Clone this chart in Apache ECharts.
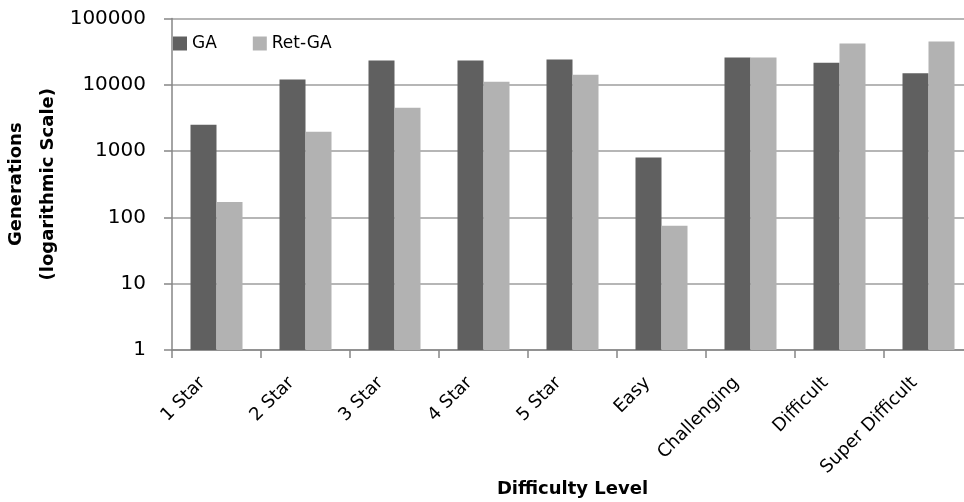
<!DOCTYPE html>
<html>
<head>
<meta charset="utf-8">
<script src="https://cdn.jsdelivr.net/npm/echarts@6/dist/echarts.min.js"></script>
<style>html,body{margin:0;padding:0;background:#fff;overflow:hidden;}#chart{width:964px;height:502px;}</style>
</head>
<body>
<div id="chart"></div>
<script>
var categories = ['1 Star', '2 Star', '3 Star', '4 Star', '5 Star', 'Easy', 'Challenging', 'Difficult', 'Super Difficult'];
var gaValues = [2500, 12000, 23200, 23200, 24000, 800, 25800, 21500, 15000];
var retGaValues = [170, 1950, 4500, 11100, 14200, 75, 25800, 42000, 45000];
var seriesNames = ['GA', 'Ret-GA'];
var yAxisName = 'Generations\n(logarithmic Scale)';
var xAxisName = 'Difficulty Level';

var chart = echarts.init(document.getElementById('chart'), null, {renderer: 'canvas'});
var font = 'DejaVu Sans';
chart.setOption({
  animation: false,
  backgroundColor: '#ffffff',
  textStyle: {fontFamily: font, color: '#000'},
  legend: {
    left: 168, top: 30,
    itemWidth: 14, itemHeight: 14, itemGap: 36,
    icon: 'rect',
    textStyle: {fontSize: 17, color: '#000', fontFamily: font},
    data: seriesNames
  },
  grid: {left: 172, right: -9, top: 18.5, bottom: 152, containLabel: false, outerBoundsMode: 'none'},
  xAxis: {
    type: 'category',
    data: categories,
    boundaryGap: true,
    axisLine: {show: true, lineStyle: {color: '#868686', width: 1.5}},
    axisTick: {show: true, length: 8, lineStyle: {color: '#868686', width: 1.5}},
    axisLabel: {rotate: 45, fontSize: 18, color: '#000', margin: 16, fontFamily: font, interval: 0, padding: [0, 20, 0, 0]},
    name: xAxisName,
    nameLocation: 'middle',
    nameGap: 130,
    nameMoveOverlap: false,
    nameTextStyle: {fontSize: 18, fontWeight: 'bold', color: '#000', fontFamily: font}
  },
  yAxis: {
    type: 'log',
    logBase: 10,
    min: 1,
    max: 100000,
    axisLine: {show: true, lineStyle: {color: '#868686', width: 1.5}},
    axisTick: {show: true, length: 8, lineStyle: {color: '#868686', width: 1.5}},
    splitLine: {show: true, lineStyle: {color: '#9e9e9e', width: 1.5}},
    axisLabel: {fontSize: 20, color: '#000', margin: 26, fontFamily: font, formatter: function (v) { return String(Math.round(v)); }},
    name: yAxisName,
    nameLocation: 'middle',
    nameGap: 108,
    nameMoveOverlap: false,
    nameRotate: 90,
    nameTextStyle: {fontSize: 18, fontWeight: 'bold', color: '#000', fontFamily: font, lineHeight: 32, align: 'center'}
  },
  series: [
    {name: seriesNames[0], type: 'bar', data: gaValues, barWidth: 26, barGap: '0%', itemStyle: {color: '#606060'}},
    {name: seriesNames[1], type: 'bar', data: retGaValues, barWidth: 26, barGap: '0%', itemStyle: {color: '#b2b2b2'}}
  ]
});
</script>
</body>
</html>
